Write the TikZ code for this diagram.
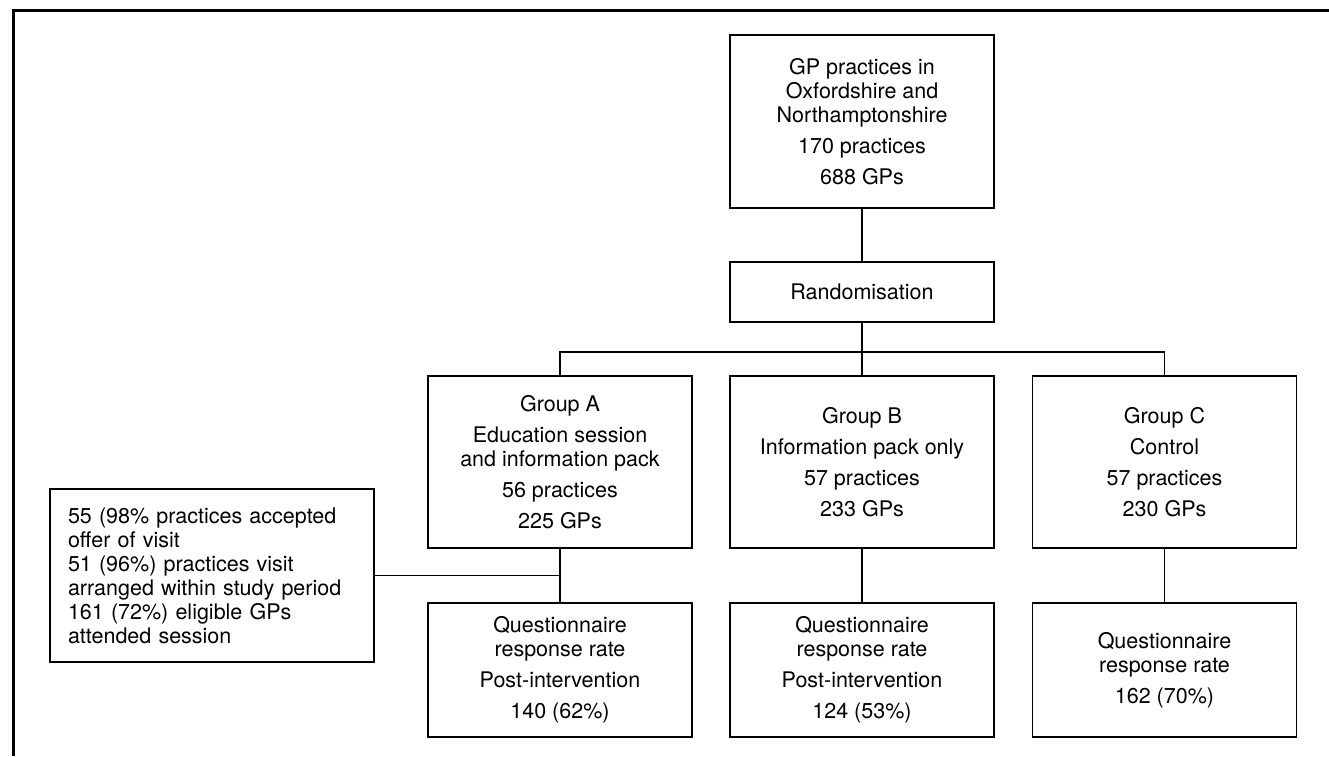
\documentclass[tikz,border=0pt]{standalone}
\usepackage{fontspec}
\setmainfont{TeX Gyre Heros}
\begin{document}
\begin{tikzpicture}[x=1pt,y=-1pt,
  box/.style={draw, line width=1.2pt, minimum width=264pt, align=center, inner sep=0pt,
    font=\fontsize{21.5}{24}\selectfont},
  wire/.style={line width=1.2pt},
  frameline/.style={line width=3pt}]
\useasboundingbox (0,0) rectangle (1329,756);
% frame
\coordinate (fb) at (13.5,756);
\coordinate (fc) at (13.5,10);
\coordinate (fr) at (1329,10);
\draw[frameline] (fb) -- (fc) -- (fr);
% nodes
\node[box, minimum height=173pt] (top) at (862,121.5)
  {GP practices in\\Oxfordshire and\\Northamptonshire\\[7pt]170 practices\\[7pt]688 GPs};
\node[box, minimum height=60pt] (rand) at (862,292) {Randomisation};
\node[box, minimum height=172pt] (ga) at (560,462)
  {Group A\\[7pt]Education session\\and information pack\\[7pt]56 practices\\[7pt]225 GPs};
\node[box, minimum height=172pt] (gb) at (862,462)
  {Group B\\[7pt]Information pack only\\[7pt]57 practices\\[7pt]233 GPs};
\node[box, minimum height=172pt] (gc) at (1164.5,462)
  {Group C\\[7pt]Control\\[7pt]57 practices\\[7pt]230 GPs};
\node[box, minimum height=134pt] (qa) at (560,670)
  {Questionnaire\\response rate\\[7pt]Post-intervention\\[7pt]140 (62\%)};
\node[box, minimum height=134pt] (qb) at (862,670)
  {Questionnaire\\response rate\\[7pt]Post-intervention\\[7pt]124 (53\%)};
\node[box, minimum height=134pt] (qc) at (1164.5,670)
  {Questionnaire\\response rate\\[7pt]162 (70\%)};
\node[box, minimum width=324pt, minimum height=173pt, align=left, text width=288pt,
  inner xsep=18pt] (lb) at (212,575.5)
  {55 (98\% practices accepted\\offer of visit\\51 (96\%) practices visit\\arranged within study period\\161 (72\%) eligible GPs\\attended session};
% connectors
\coordinate (bus) at (560,352);
\draw[wire] (top) -- (rand);
\draw[wire] (rand.south) -- (rand.south |- bus);
\draw[wire] (ga.north) -- (ga.north |- bus) -- (gc.north |- bus) -- (gc.north);
\draw[wire] (gb.north) -- (gb.north |- bus);
\draw[wire] (ga) -- (qa);
\draw[wire] (gb) -- (qb);
\draw[wire] (gc) -- (qc);
\draw[wire] (lb.east) -- (lb.east -| ga.south);
\end{tikzpicture}
\end{document}
